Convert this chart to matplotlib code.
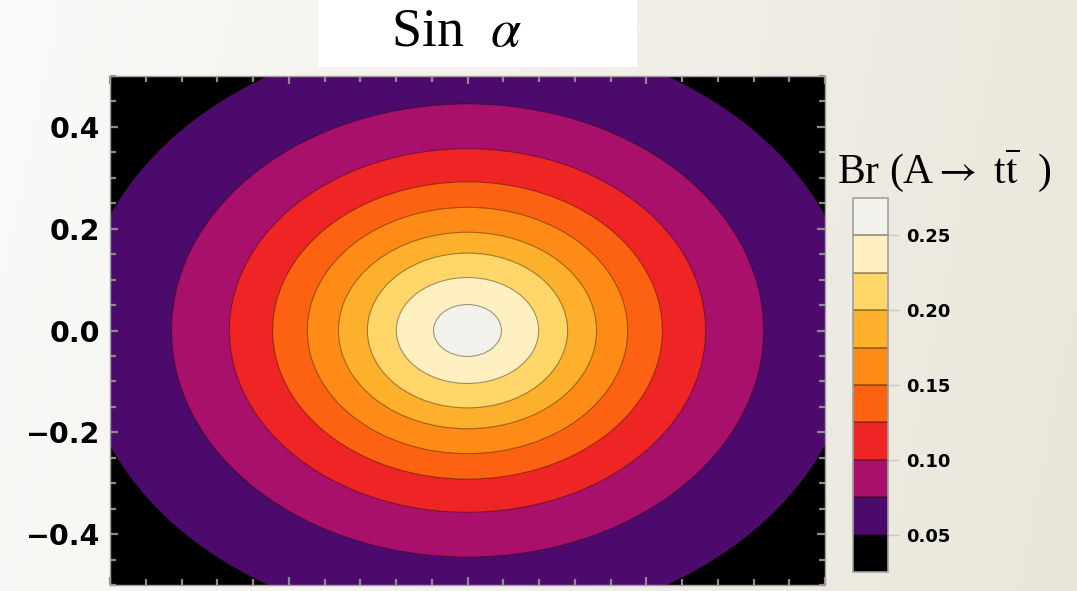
import numpy as np
import matplotlib
matplotlib.use("Agg")
import matplotlib.pyplot as plt
from matplotlib.patches import Ellipse, Rectangle
from matplotlib.colors import ListedColormap, BoundaryNorm
from matplotlib.cm import ScalarMappable
from matplotlib.ticker import MultipleLocator

plt.rcParams['mathtext.fontset'] = 'stix'

# =========================================================
# DATA
# =========================================================

# band edges of Br(A -> t tbar)
levels = [0.025, 0.05, 0.075, 0.1, 0.125, 0.15, 0.175, 0.2, 0.225, 0.25, 0.275]

# fill colour of each band (sunset palette)
band_colors = ['#000000', '#4c0a6c', '#a8106b', '#ee2524', '#fc6212',
               '#fd8b16', '#fdb02b', '#fed66a', '#fef0c0', '#f2f1ec']

# contour lines: level and semi-axes of the closed curve
contour_levels = [0.05, 0.075, 0.1, 0.125, 0.15, 0.175, 0.2, 0.225, 0.25]
semi_x = [1.085, 0.828, 0.666, 0.545, 0.448, 0.361, 0.280, 0.199, 0.095]
semi_y = [0.583, 0.445, 0.357, 0.292, 0.242, 0.193, 0.152, 0.104, 0.051]

yticks = [-0.4, -0.2, 0.0, 0.2, 0.4]
cbar_ticks = [0.05, 0.10, 0.15, 0.20, 0.25]

# =========================================================
# FIGURE
# =========================================================

fig = plt.figure(figsize=(10.77, 5.91), dpi=100)

# light slide background, a bit whiter on the left
bg = fig.add_axes([0, 0, 1, 1], zorder=-10)
xx, yy = np.meshgrid(np.linspace(0, 1, 256), np.linspace(0, 1, 64))
t = np.clip(0.9 * xx + 0.1 * yy, 0, 1)[..., None]
c_left = np.array([0.980, 0.980, 0.975])
c_right = np.array([0.915, 0.902, 0.855])
bg.imshow(c_left * (1 - t) + c_right * t, aspect='auto', extent=[0, 1, 0, 1])
bg.axis('off')

# title on a white card
fig.add_artist(Rectangle((318 / 1077, 1 - 67 / 591), 319 / 1077, 67 / 591,
                         transform=fig.transFigure, facecolor='white',
                         edgecolor='none'))
fig.text(456 / 1077, 1 - 46 / 591, r'Sin  $\alpha$', fontsize=39,
         family='Liberation Serif', ha='center', va='baseline')

# =========================================================
# CONTOUR PLOT
# =========================================================

ax = fig.add_axes([110 / 1077, 1 - 585 / 591, 715 / 1077, 509 / 591])
ax.set_facecolor(band_colors[0])

for i, lev in enumerate(contour_levels):
    band = levels.index(lev)
    ax.add_patch(Ellipse((0, 0), 2 * semi_x[i], 2 * semi_y[i],
                         facecolor=band_colors[band],
                         edgecolor=(0.1, 0.05, 0, 0.4), linewidth=0.8))

ax.set_xlim(-1, 1)
ax.set_ylim(-0.5, 0.5)

ax.xaxis.set_major_locator(MultipleLocator(0.5))
ax.xaxis.set_minor_locator(MultipleLocator(0.1))
ax.set_yticks(yticks)
ax.set_yticklabels([f'{v:.1f}'.replace('-', '\u2212') for v in yticks])
ax.yaxis.set_minor_locator(MultipleLocator(0.05))

ax.tick_params(which='both', direction='in', top=True, right=True,
               color='#8c8c8c', width=1.6, labelbottom=False)
ax.tick_params(which='major', length=5.5)
ax.tick_params(which='minor', length=4)
ax.tick_params(axis='y', pad=7, labelsize=20.5)
for lab in ax.get_yticklabels():
    lab.set_fontweight('bold')
    lab.set_family('DejaVu Sans')
for sp in ax.spines.values():
    sp.set_color('#a0a0a0')
    sp.set_linewidth(1)

# =========================================================
# COLORBAR
# =========================================================

cmap = ListedColormap(band_colors)
norm = BoundaryNorm(levels, cmap.N)
cax = fig.add_axes([853 / 1077, 1 - 572 / 591, 35 / 1077, 374 / 591])
cb = fig.colorbar(ScalarMappable(norm=norm, cmap=cmap), cax=cax,
                  ticks=cbar_ticks)
cb.minorticks_off()
cb.set_ticklabels([f'{v:.2f}' for v in cbar_ticks])
for lev in contour_levels:
    cax.axhline(lev, color=(0.1, 0.05, 0, 0.45), linewidth=1.2)
cb.outline.set_edgecolor('#a0a0a0')
cb.outline.set_linewidth(1.2)
cax.tick_params(direction='out', length=8, width=1, color='#c8c8c8',
                pad=5, labelsize=13)
for lab in cax.get_yticklabels():
    lab.set_fontweight('bold')
    lab.set_family('DejaVu Sans')

fig.text(837 / 1077, 1 - 183 / 591,
         r'Br (A$\rightarrow$ t$\overline{\mathrm{t}}$  )',
         fontsize=30, family='Liberation Serif', ha='left', va='baseline')

fig.savefig('out.png', dpi=100)
